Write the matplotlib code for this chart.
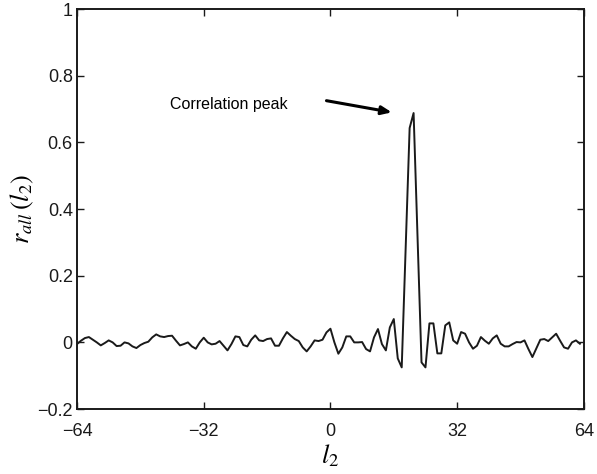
import matplotlib
matplotlib.use('Agg')
import matplotlib.pyplot as plt

# lags l2 and correlation values
lags = list(range(-64, 64))
r_all = [
    -0.005, 0.005, 0.013, 0.016, 0.008, 0.0, -0.009, -0.002,
    0.006, 0.0, -0.011, -0.01, 0.0, -0.003, -0.012, -0.017,
    -0.008, -0.002, 0.002, 0.015, 0.024, 0.018, 0.016, 0.019,
    0.02, 0.005, -0.009, -0.005, 0.0, -0.012, -0.019, 0.0,
    0.014, 0.0, -0.006, -0.004, 0.004, -0.01, -0.024, -0.005,
    0.018, 0.016, -0.008, -0.012, 0.008, 0.021, 0.006, 0.004,
    0.01, 0.012, -0.01, -0.01, 0.012, 0.031, 0.02, 0.01,
    0.004, -0.015, -0.027, -0.012, 0.006, 0.004, 0.008, 0.03,
    0.041, 0.0, -0.034, -0.015, 0.018, 0.018, 0.0, 0.0,
    0.001, -0.02, -0.027, 0.015, 0.04, -0.005, -0.024, 0.045,
    0.07, -0.048, -0.075, 0.284, 0.643, 0.688, 0.31, -0.06,
    -0.075, 0.057, 0.057, -0.033, -0.033, 0.051, 0.06, 0.006,
    -0.004, 0.031, 0.026, 0.0, -0.019, -0.01, 0.016, 0.005,
    -0.004, 0.012, 0.021, -0.004, -0.012, -0.012, -0.005, 0.001,
    0.0, 0.006, -0.02, -0.044, -0.018, 0.008, 0.01, 0.004,
    0.015, 0.026, 0.005, -0.015, -0.019, 0.0, 0.006, -0.004,
]
xticks = [-64, -32, 0, 32, 64]
yticks = [-0.2, 0, 0.2, 0.4, 0.6, 0.8, 1]
ytick_labels = ['\u22120.2', '0', '0.2', '0.4', '0.6', '0.8', '1']
xtick_labels = ['\u221264', '\u221232', '0', '32', '64']

plt.rcParams['font.family'] = ['Liberation Sans', 'DejaVu Sans']
plt.rcParams['mathtext.fontset'] = 'stix'

fig = plt.figure(figsize=(5.97, 4.74), dpi=100)
ax = fig.add_axes([0.129, 0.137, 0.849, 0.844])

ax.plot(lags, r_all, color='#1a1a1a', linewidth=1.4)

ax.set_xlim(-64, 64)
ax.set_ylim(-0.2, 1)
ax.set_xticks(xticks)
ax.set_xticklabels(xtick_labels)
ax.set_yticks(yticks)
ax.set_yticklabels(ytick_labels)
ax.tick_params(direction='in', length=5, width=1, labelsize=13,
               top=True, right=True, colors='#1a1a1a')
ax.tick_params(axis='x', pad=10)
ax.tick_params(axis='y', pad=3)
for s in ax.spines.values():
    s.set_linewidth(1.4)
    s.set_color('#1a1a1a')

ax.set_xlabel(r'$l_2$', fontsize=19, labelpad=2)
ax.set_ylabel(r'$r_{all}\,(l_2)$', fontsize=19, labelpad=1)

ax.text(-40.5, 0.715, 'Correlation peak', fontsize=11.5, ha='left', va='center')
ax.annotate('', xy=(15.5, 0.69), xytext=(-1, 0.725),
            arrowprops=dict(arrowstyle='-|>,head_length=0.6,head_width=0.25',
                            lw=2.2, color='k', shrinkA=0, shrinkB=0))

plt.savefig('out.png', dpi=100)
plt.close()
